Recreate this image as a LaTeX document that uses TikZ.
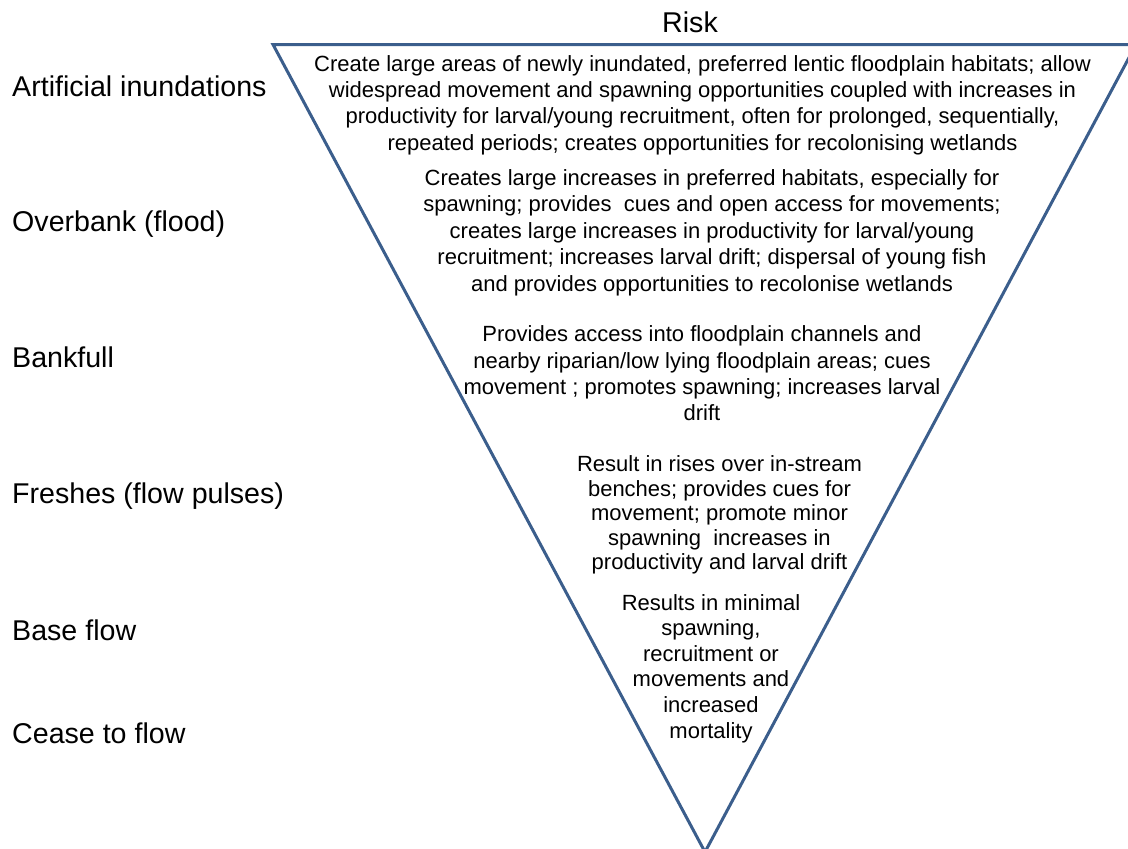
\documentclass[tikz,border=0pt]{standalone}
\usepackage{fontspec}
\setmainfont{Liberation Sans}
\definecolor{triblue}{HTML}{3B5E8C}
\tikzset{
  lbl/.style={anchor=base west, inner sep=0pt, font=\fontsize{28.6}{34}\selectfont},
  blk/.style={anchor=base, inner sep=0pt, align=center, font=\fontsize{22}{26.2}\selectfont},
  tri/.style={draw=triblue, line width=3pt, line join=miter}
}
\begin{document}
\begin{tikzpicture}[x=1pt,y=-1pt]
\useasboundingbox (0,0) rectangle (1128,849);
\clip (0,0) rectangle (1128,849);
\coordinate (tl) at (273,44.5);
\coordinate (tr) at (1136,44.5);
\coordinate (bt) at (705,852);
\draw[tri] (tl) -- (tr) -- (bt) -- cycle;

\node[anchor=base, inner sep=0pt, font=\fontsize{28.6}{34}\selectfont] (risk) at (690,32) {Risk};

\node[lbl] (l1) at (12,96) {Artificial inundations};
\node[lbl] (l2) at (12,231) {Overbank (flood)};
\node[lbl] (l3) at (12,367) {Bankfull};
\node[lbl] (l4) at (12,503) {Freshes (flow pulses)};
\node[lbl] (l5) at (12,640) {Base flow};
\node[lbl] (l6) at (12,743) {Cease to flow};

% base anchor = baseline of the last line
\node[blk] (b1) at (702.5,150) {Create large areas of newly inundated, preferred lentic floodplain habitats; allow\\
widespread movement and spawning opportunities coupled with increases in\\
productivity for larval/young recruitment, often for prolonged, sequentially,\\
repeated periods; creates opportunities for recolonising wetlands};

\node[blk, font=\fontsize{22}{26.6}\selectfont] (b2) at (712,291.5) {Creates large increases in preferred habitats, especially for\\
spawning; provides\ \ cues and open access for movements;\\
creates large increases in productivity for larval/young\\
recruitment; increases larval drift; dispersal of young fish\\
and provides opportunities to recolonise wetlands};

\node[blk] (b3) at (702,420.5) {Provides access into floodplain channels and\\
nearby riparian/low lying floodplain areas; cues\\
movement ; promotes spawning; increases larval\\
drift};

\node[blk, font=\fontsize{22}{24.5}\selectfont] (b4) at (719.5,569.5) {Result in rises over in-stream\\
benches; provides cues for\\
movement; promote minor\\
spawning\ \ increases in\\
productivity and larval drift};

\node[blk, font=\fontsize{22}{25.6}\selectfont] (b5) at (711,738) {Results in minimal\\
spawning,\\
recruitment or\\
movements and\\
increased\\
mortality};
\end{tikzpicture}
\end{document}
